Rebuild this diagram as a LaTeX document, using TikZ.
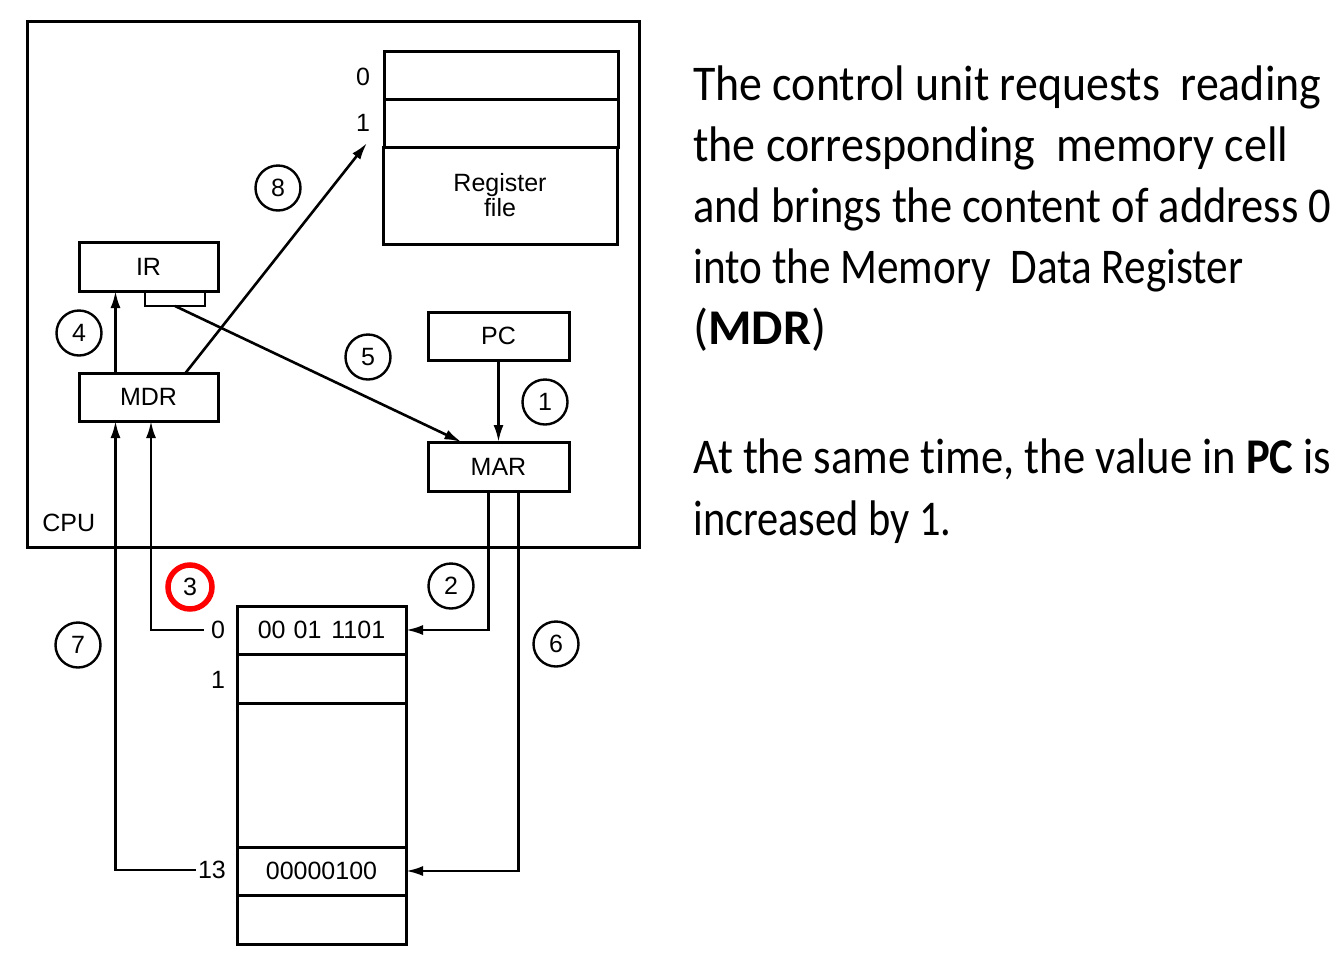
\documentclass[tikz,border=0pt]{standalone}
\usepackage{fontspec}
\setmainfont{Liberation Sans}
\newfontfamily\bodyfont[Ligatures=NoCommon]{Carlito}
\usetikzlibrary{arrows.meta}
% set a line of text condensed to a given width (in pt)
\newsavebox\linebox
\newcommand\fitline[2]{%
  \sbox\linebox{#2}%
  \pgfmathsetmacro\fitratio{#1/\wd\linebox}%
  \scalebox{\fitratio}[1]{\usebox\linebox}}
\begin{document}
\begin{tikzpicture}[x=1pt,y=-1pt,
  line width=2.6pt,
  reg/.style={draw, line width=3pt, inner sep=0pt, outer sep=0pt,
    font=\fontsize{25}{28}\selectfont},
  lbl/.style={inner sep=0pt, font=\fontsize{25}{28}\selectfont},
  stepno/.style={draw, circle, line width=2.4pt, minimum size=45pt, inner sep=0pt,
    font=\fontsize{25}{27}\selectfont},
  hot/.style={stepno, draw=red, line width=5.5pt, minimum size=44pt},
  arr/.style={-{Latex[length=17pt,width=10pt]}, line width=2.6pt},
  para/.style={anchor=base west, inner sep=0pt, font=\bodyfont\fontsize{50}{54}\selectfont}
]
\useasboundingbox (0,0) rectangle (1341,967);
\fill[white] (0,0) rectangle (1341,967);

% CPU enclosure
\draw[line width=3pt] (27,21) rectangle (639,547);
\node[lbl, anchor=west] (cpu) at (41,523) {CPU};

% register file
\node[reg, minimum width=234pt, minimum height=48pt] (r0) at (501,75) {};
\node[reg, minimum width=234pt, minimum height=48pt] (r1) at (501,123) {};
\node[reg, minimum width=234pt, minimum height=97pt, align=center] (rf) at (500,195.5) {Register\\[-3pt]file};
\node[lbl] (ra0) at (363,77) {0};
\node[lbl] (ra1) at (363,123) {1};
\coordinate (r1in) at (367,143);

% CPU registers
\node[reg, minimum width=139pt, minimum height=49pt] (ir) at (148.5,266.5) {IR};
\node[reg, line width=2.6pt, minimum width=60pt, minimum height=15pt, anchor=north] (irtab) at (175,291) {};
\node[reg, minimum width=139pt, minimum height=48pt] (mdr) at (148.5,397) {MDR};
\node[reg, minimum width=141pt, minimum height=48pt] (pc) at (498.5,336) {PC};
\node[reg, minimum width=141pt, minimum height=49pt] (mar) at (498.5,466.5) {MAR};

% main memory
\node[reg, minimum width=169pt, minimum height=48pt] (m0) at (321.5,630) {00\hspace{8pt}01\hspace{10pt}1101};
\node[reg, minimum width=169pt, minimum height=49pt] (m1) at (321.5,678.5) {};
\node[reg, minimum width=169pt, minimum height=144pt] (mgap) at (321.5,775) {};
\node[reg, minimum width=169pt, minimum height=48pt] (m13) at (321.5,871) {00000100};
\node[reg, minimum width=169pt, minimum height=49pt] (mlast) at (321.5,919.5) {};
\node[lbl, inner xsep=6pt] (a0) at (218,630) {0};
\node[lbl] (a1) at (218,680) {1};
\node[lbl, inner xsep=1pt] (a13) at (212,870) {13};

% data paths
\draw[arr] (pc.south) -- (mar.north);
\draw[arr] ([xshift=-10pt]mar.south) |- (m0.east);
\draw[arr] (a0.west) -| ([xshift=2.5pt]mdr.south);
\draw[arr] ([xshift=-33pt]mdr.north) -- ([xshift=-33pt]ir.south);
\draw[arr] (irtab.south) -- ([xshift=-37pt]mar.north);
\draw[arr] ([xshift=20pt]mar.south) |- (m13.east);
\draw[arr] (a13.west) -| ([xshift=-33pt]mdr.south);
\draw[arr] ([xshift=37pt]mdr.north) -- (r1in);

% step numbers
\node[stepno] (s1) at (545,402) {1};
\node[stepno] (s2) at (451,586) {2};
\node[hot] (s3) at (190,587) {3};
\node[stepno] (s4) at (79,333) {4};
\node[stepno] (s5) at (368,357) {5};
\node[stepno] (s6) at (556,644) {6};
\node[stepno] (s7) at (78,645) {7};
\node[stepno] (s8) at (278,188) {8};

% explanation
\node[para] (t1) at (692,100) {\fitline{628}{The control unit requests\ \ reading}};
\node[para] (t2) at (692,161) {\fitline{595}{the corresponding\ \ memory cell}};
\node[para] (t3) at (692,222) {\fitline{638}{and brings the content of address 0}};
\node[para] (t4) at (692,283) {\fitline{550}{into the Memory\ \ Data Register}};
\node[para] (t5) at (692,344) {\fitline{133}{(\textbf{MDR})}};
\node[para] (t6) at (692,473) {\fitline{638}{At the same time, the value in \textbf{PC} is}};
\node[para] (t7) at (692,535) {\fitline{258}{increased by 1.}};
\end{tikzpicture}
\end{document}
